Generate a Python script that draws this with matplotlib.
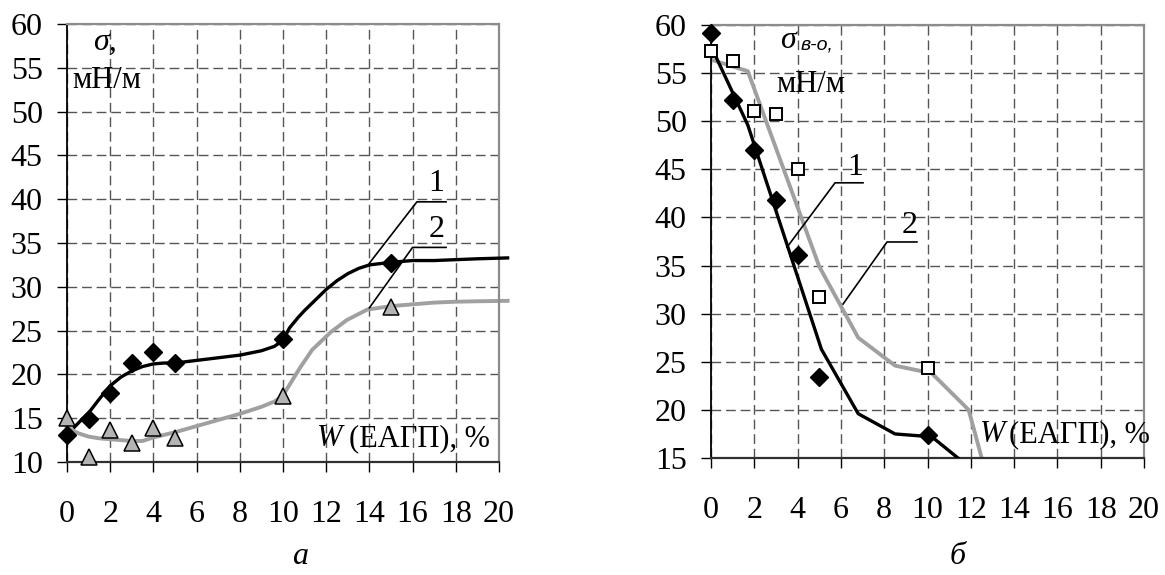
import matplotlib.pyplot as plt

plt.rcParams['font.family'] = ['Liberation Serif', 'DejaVu Serif']

# --- panel a: surface tension vs. additive content ---
w_exp = [0, 1, 2, 3, 4, 5, 10, 15]
sigma_1 = [13.1, 14.9, 17.9, 21.3, 22.6, 21.3, 24.0, 32.7]
sigma_2 = [15.0, 10.6, 13.7, 12.2, 13.9, 12.7, 17.5, 27.7]

# fitted curves
fit1_w = [0.35, 0.7, 1, 1.5, 2, 2.5, 3, 3.5, 4, 4.5, 5, 6, 7, 8, 9, 9.6, 10,
          10.3, 10.7, 11, 11.5, 12, 12.5, 13, 13.5, 14, 15, 16, 17, 18, 19, 20.4]
fit1_s = [14.0, 14.9, 15.6, 17.2, 18.7, 19.7, 20.4, 20.9, 21.2, 21.3, 21.3, 21.6,
          21.9, 22.2, 22.7, 23.2, 23.9, 25.3, 26.5, 27.3, 28.5, 29.7, 30.7, 31.5,
          32.1, 32.5, 32.8, 33.0, 33.0, 33.1, 33.2, 33.3]
fit2_w = [0, 0.5, 1, 1.5, 2, 2.5, 3, 3.5, 4, 4.5, 5, 6, 7, 8, 9, 9.6, 10, 10.25,
          10.8, 11.35, 12.2, 12.95, 13.9, 15, 16, 17, 18, 19, 20.4]
fit2_s = [14.0, 13.3, 12.9, 12.7, 12.6, 12.5, 12.4, 12.4, 12.8, 13.1, 13.4, 14.1,
          14.8, 15.5, 16.3, 16.9, 17.6, 18.6, 20.8, 22.8, 24.8, 26.2, 27.4, 27.8,
          28.0, 28.2, 28.3, 28.35, 28.4]

# --- panel b: water-oil interfacial tension ---
w_exp_b = [0, 1, 2, 3, 4, 5, 10]
sigma_1b = [59.2, 52.2, 47.0, 41.8, 36.1, 23.4, 17.4]
sigma_2b = [57.3, 56.3, 51.1, 50.7, 45.0, 31.7, 24.4]
calc1_w = [0, 1.7, 5.1, 6.8, 8.5, 10.2, 11.9]
calc1_s = [57.8, 49.6, 26.3, 19.6, 17.5, 17.2, 14.1]
calc2_w = [0, 1.7, 5.0, 6.8, 8.5, 10.2, 11.9, 13.6]
calc2_s = [56.4, 55.2, 34.9, 27.5, 24.6, 23.8, 20.0, 5.9]

x_ticks = list(range(0, 21, 2))

GRAY_LINE = '#a0a0a0'
GRID = '#555555'
FS_TICK = 23
FS = 22


def style_axes(ax, ylim, yticks):
    ax.set_xlim(0, 20)
    ax.set_ylim(*ylim)
    ax.set_xticks(x_ticks)
    ax.set_yticks(yticks)
    ax.grid(True, color=GRID, linestyle=(0, (7, 3.5)), linewidth=1.0, zorder=0)
    ax.set_axisbelow(True)
    for s in ['top', 'right']:
        ax.spines[s].set_color('#8c8c8c')
        ax.spines[s].set_linewidth(1.6)
    ax.spines['left'].set_color('black')
    ax.spines['left'].set_linewidth(1.3)
    ax.spines['bottom'].set_color('#303030')
    ax.spines['bottom'].set_linewidth(1.6)
    ax.tick_params(axis='both', direction='out', length=7.5, width=1.0,
                   labelsize=FS_TICK, colors='black')
    ax.tick_params(axis='x', pad=20)
    ax.tick_params(axis='y', pad=10)


fig = plt.figure(figsize=(11.65, 5.75), dpi=100)
ax1 = fig.add_axes([0.0575, 0.1965, 0.3708, 0.7617])
ax2 = fig.add_axes([0.6103, 0.2035, 0.3717, 0.7530])

# panel a
style_axes(ax1, (10, 60), range(10, 61, 5))
ax1.plot(fit1_w, fit1_s, color='black', lw=2.4, clip_on=False, zorder=3)
ax1.plot(fit2_w, fit2_s, color=GRAY_LINE, lw=2.8, clip_on=False, zorder=2)
ax1.plot(w_exp, sigma_1, 'D', color='black', markersize=9, clip_on=False, zorder=5)
ax1.plot(w_exp, sigma_2, '^', markerfacecolor='#b4b4b4', markeredgecolor='black',
         markeredgewidth=1.1, markersize=11, linestyle='none', clip_on=False, zorder=5)

ax1.plot([14.0, 16.2, 17.55], [32.7, 39.7, 39.7], color='black', lw=1.2, zorder=4)
ax1.plot([14.0, 16.0, 17.55], [27.6, 34.5, 34.5], color='black', lw=1.2, zorder=4)
ax1.text(17.1, 41.8, '1', fontsize=FS_TICK, ha='center', va='center')
ax1.text(17.1, 36.6, '2', fontsize=FS_TICK, ha='center', va='center')

ax1.text(1.76, 57.9, 'σ,', fontsize=FS_TICK, style='italic', ha='center', va='center')
ax1.text(1.85, 53.5, 'мН/м', fontsize=FS, ha='center', va='center')
ax1.text(11.57, 12.7, 'W', fontsize=FS, style='italic', ha='left', va='center')
ax1.text(13.05, 12.7, '(ЕАГП), %', fontsize=FS, ha='left', va='center')

# panel b
style_axes(ax2, (15, 60), range(15, 61, 5))
ax2.plot(calc1_w, calc1_s, color='black', lw=2.4, zorder=3)
ax2.plot(calc2_w, calc2_s, color=GRAY_LINE, lw=2.8, zorder=2)
ax2.plot(w_exp_b, sigma_1b, 'D', color='black', markersize=9, clip_on=False, zorder=5)
ax2.plot(w_exp_b, sigma_2b, 's', markerfacecolor='white', markeredgecolor='black',
         markeredgewidth=1.4, markersize=8, linestyle='none', clip_on=False, zorder=5)

ax2.plot([3.51, 5.73, 7.02], [36.9, 43.6, 43.6], color='black', lw=1.2, zorder=4)
ax2.plot([6.1, 8.13, 9.51], [31.0, 37.45, 37.45], color='black', lw=1.2, zorder=4)
ax2.text(6.65, 45.2, '1', fontsize=FS_TICK, ha='center', va='center')
ax2.text(9.19, 39.2, '2', fontsize=FS_TICK, ha='center', va='center')

ax2.text(3.56, 58.4, 'σ', fontsize=FS_TICK, style='italic', ha='center', va='center')
ax2.text(4.12, 57.5, 'в-о,', fontsize=14, style='italic', family=['Liberation Sans'],
         ha='left', va='baseline')
ax2.text(4.62, 53.8, 'мН/м', fontsize=FS, ha='center', va='center')
ax2.text(12.42, 17.4, 'W', fontsize=FS, style='italic', ha='left', va='center')
ax2.text(13.78, 17.4, '(ЕАГП), %', fontsize=FS, ha='left', va='center')

# panel captions
fig.text(300 / 1165, 1 - 557 / 575, 'а', fontsize=FS_TICK, style='italic', ha='center', va='center')
fig.text(958 / 1165, 1 - 557 / 575, 'б', fontsize=FS_TICK, style='italic', ha='center', va='center')

fig.savefig('out.png', dpi=100)
